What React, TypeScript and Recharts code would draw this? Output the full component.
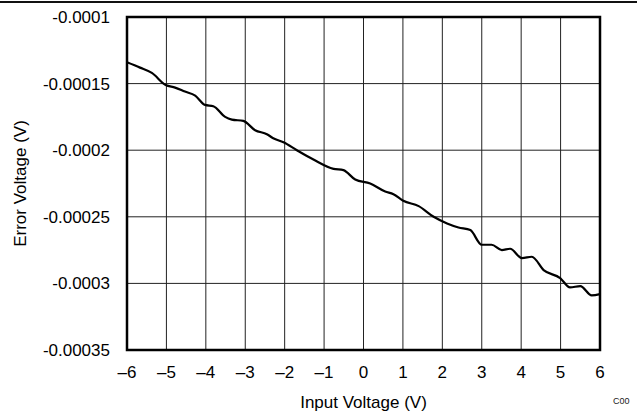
import React from 'react';
import {
  LineChart,
  Line,
  XAxis,
  YAxis,
  CartesianGrid,
  ReferenceArea,
} from 'recharts';

const inputVoltage = [
  -6, -5.67, -5.37, -5.02, -4.78, -4.53, -4.27, -4.02, -3.81, -3.51, -3.34,
  -3.05, -2.75, -2.45, -2.29, -2.03, -1.69, -1.27, -0.76, -0.51, -0.21, 0.17,
  0.55, 0.76, 1.01, 1.4, 1.78, 2.12, 2.41, 2.71, 3.0, 3.25, 3.51, 3.72, 4.02,
  4.27, 4.57, 4.99, 5.24, 5.5, 5.79, 6,
];
const errorVoltage = [
  -0.000134, -0.000138, -0.000142, -0.000151, -0.000153, -0.000156, -0.000159,
  -0.000166, -0.000167, -0.000175, -0.000177, -0.000178, -0.000185, -0.000188,
  -0.000191, -0.000194, -0.0002, -0.000207, -0.000214, -0.000215, -0.000222,
  -0.000225, -0.000231, -0.000233, -0.000238, -0.000242, -0.00025, -0.000255,
  -0.000258, -0.00026, -0.000271, -0.000271, -0.000275, -0.000274, -0.000281,
  -0.00028, -0.00029, -0.000296, -0.000303, -0.000302, -0.000309, -0.000308,
];

const xTicks = [-6, -5, -4, -3, -2, -1, 0, 1, 2, 3, 4, 5, 6];
const xTickLabels = ['–6', '–5', '–4', '–3', '–2', '–1', '0', '1', '2', '3', '4', '5', '6'];
const yTicks = [-0.0001, -0.00015, -0.0002, -0.00025, -0.0003, -0.00035];
const yTickLabels = ['-0.0001', '-0.00015', '-0.0002', '-0.00025', '-0.0003', '-0.00035'];

const data = inputVoltage.map((v, i) => ({ vin: v, err: errorVoltage[i] }));

const font = '"Liberation Sans", Arial, sans-serif';
const tickStyle = { fill: '#000', fontSize: 17, fontFamily: font };

const App: React.FC = () => {
  return (
    <div
      style={{
        position: 'absolute',
        left: 0,
        top: 0,
        width: 637,
        height: 411,
        background: '#fff',
        fontFamily: font,
      }}
    >
      <div
        style={{ position: 'absolute', left: 0, top: 1, width: 637, height: 2, background: '#111' }}
      />
      <LineChart
        width={637}
        height={411}
        data={data}
        margin={{ top: 17, right: 37, bottom: 0, left: 0 }}
      >
        <CartesianGrid stroke="#222" strokeWidth={1} />
        <XAxis
          dataKey="vin"
          type="number"
          domain={[-6, 6]}
          ticks={xTicks}
          tickFormatter={(v: number) => xTickLabels[xTicks.indexOf(v)]}
          height={61}
          axisLine={false}
          tickLine={false}
          tickSize={0}
          tickMargin={16}
          tick={tickStyle}
          interval={0}
          label={{
            value: 'Input Voltage (V)',
            position: 'insideBottom',
            offset: 3,
            style: { fill: '#000', fontSize: 17, fontFamily: font },
          }}
        />
        <YAxis
          type="number"
          domain={[-0.00035, -0.0001]}
          ticks={yTicks}
          tickFormatter={(v: number) => yTickLabels[yTicks.indexOf(v)]}
          width={127}
          axisLine={false}
          tickLine={false}
          tickSize={0}
          tickMargin={17}
          tick={tickStyle}
          interval={0}
          label={{
            value: 'Error Voltage (V)',
            angle: -90,
            position: 'insideLeft',
            offset: 20,
            style: { fill: '#000', fontSize: 17, fontFamily: font, textAnchor: 'middle' },
          }}
        />
        <ReferenceArea
          x1={-6}
          x2={6}
          y1={-0.00035}
          y2={-0.0001}
          fill="none"
          stroke="#000"
          strokeWidth={2.5}
        />
        <Line
          type="monotone"
          dataKey="err"
          stroke="#000"
          strokeWidth={2.2}
          dot={false}
          isAnimationActive={false}
        />
      </LineChart>
      <div
        style={{
          position: 'absolute',
          left: 613,
          top: 396,
          fontSize: 9,
          color: '#222',
          lineHeight: '11px',
        }}
      >
        C00
      </div>
    </div>
  );
};

export default App;
